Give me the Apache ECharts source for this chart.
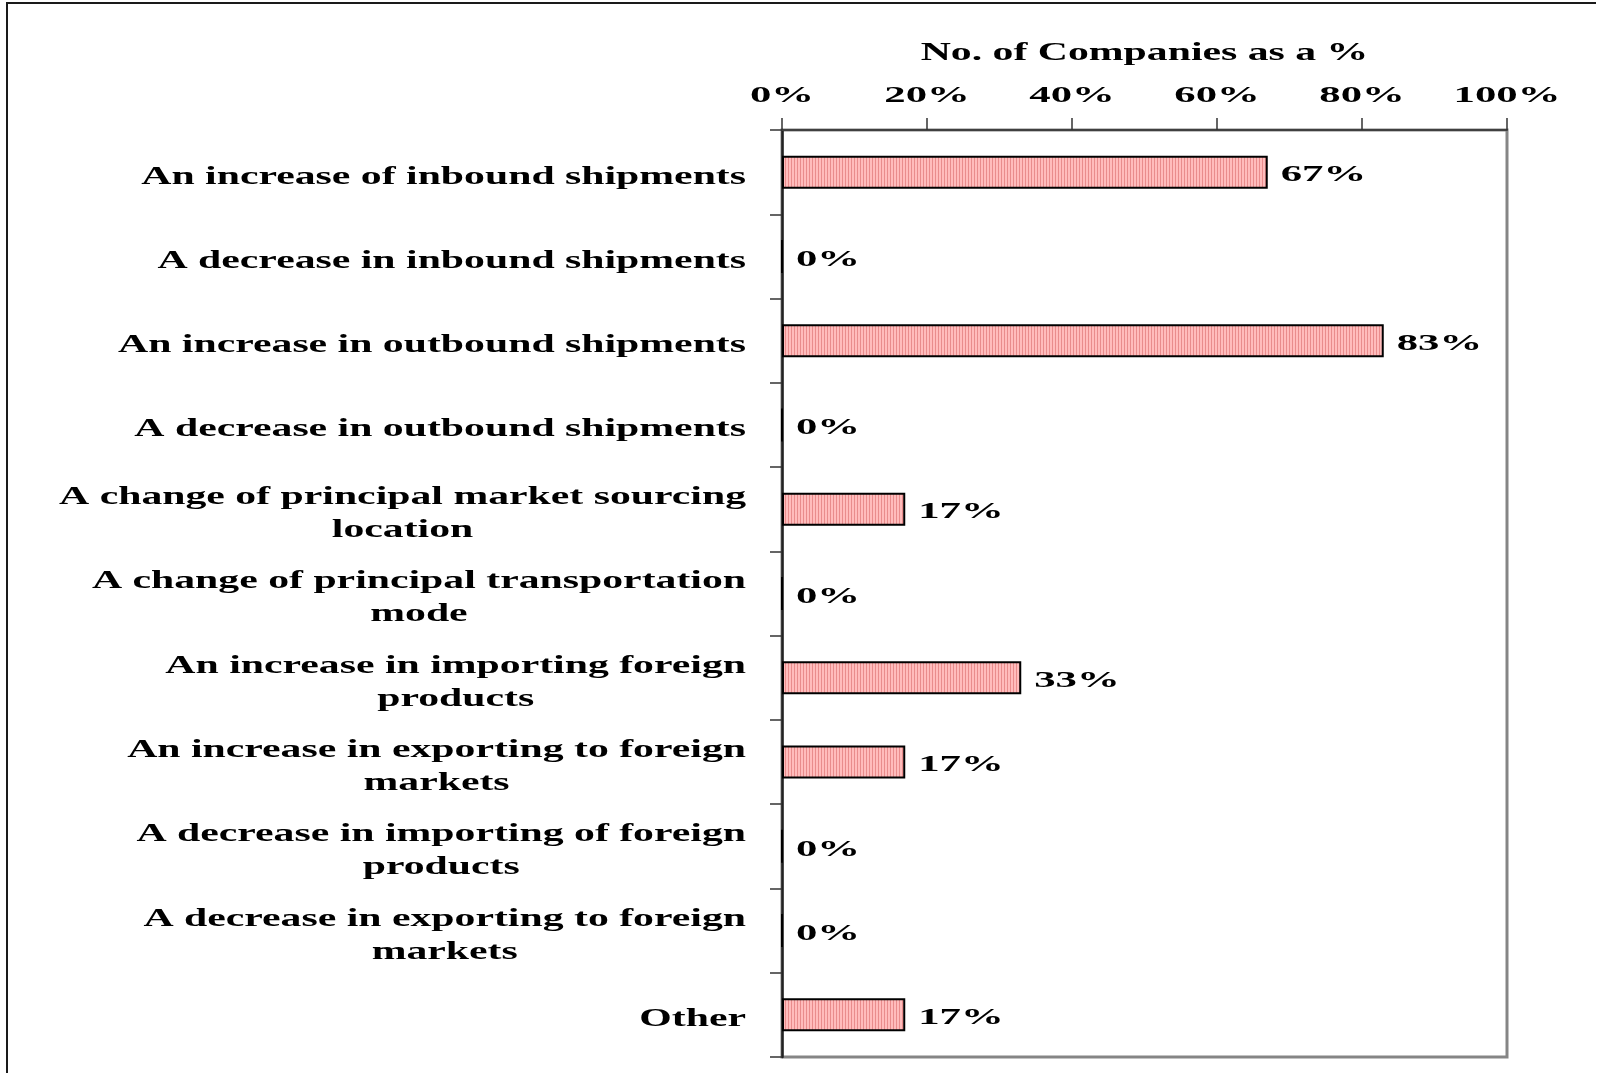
<!DOCTYPE html>
<html>
<head>
<meta charset="utf-8">
<script src="https://cdn.jsdelivr.net/npm/echarts@6/dist/echarts.min.js"></script>
<style>
html,body{margin:0;padding:0;background:#fff;}
#chart{position:absolute;left:0;top:0;width:1600px;height:1073px;}
#frame{position:absolute;left:6px;top:2px;width:1588px;height:1075px;border-left:2px solid #1a1a1a;border-top:2px solid #1a1a1a;pointer-events:none;}
</style>
</head>
<body>
<div id="chart"></div>
<div id="frame"></div>
<script>
// ---- data ----
var categories = [
  'An increase of inbound shipments',
  'A decrease in inbound shipments',
  'An increase in outbound shipments',
  'A decrease in outbound shipments',
  'A change of principal market sourcing\nlocation',
  'A change of principal transportation\nmode',
  'An increase in importing foreign\nproducts',
  'An increase in exporting to foreign\nmarkets',
  'A decrease in importing of foreign\nproducts',
  'A decrease in exporting to foreign\nmarkets',
  'Other'
];
var values = [67, 0, 83, 0, 17, 0, 33, 17, 0, 0, 17];
var axisTitle = 'No. of Companies as a %';
var tickMin = 0, tickMax = 100, tickStep = 20;

// ---- horizontally stretched type (the reference text is drawn wide) ----
var STRETCH = { '25': 1.67, '24': 1.78 };
(function () {
  var proto = CanvasRenderingContext2D.prototype;
  var origFill = proto.fillText, origStroke = proto.strokeText, origMeasure = proto.measureText;
  function factor(ctx) {
    var m = /(\d+(?:\.\d+)?)px/.exec(ctx.font || '');
    return (m && STRETCH[m[1]]) || 1;
  }
  proto.fillText = function (t, x, y, mw) {
    var s = factor(this);
    if (s === 1) return origFill.apply(this, arguments);
    this.save(); this.translate(x, y); this.scale(s, 1);
    origFill.call(this, t, 0, 0); this.restore();
  };
  proto.strokeText = function (t, x, y, mw) {
    var s = factor(this);
    if (s === 1) return origStroke.apply(this, arguments);
    this.save(); this.translate(x, y); this.scale(s, 1);
    origStroke.call(this, t, 0, 0); this.restore();
  };
  proto.measureText = function (t) {
    var m = origMeasure.call(this, t);
    var s = factor(this);
    if (s === 1) return m;
    return {
      width: m.width * s,
      actualBoundingBoxLeft: m.actualBoundingBoxLeft * s,
      actualBoundingBoxRight: m.actualBoundingBoxRight * s,
      actualBoundingBoxAscent: m.actualBoundingBoxAscent,
      actualBoundingBoxDescent: m.actualBoundingBoxDescent,
      fontBoundingBoxAscent: m.fontBoundingBoxAscent,
      fontBoundingBoxDescent: m.fontBoundingBoxDescent
    };
  };
})();

// ---- striped pink fill ----
var pat = document.createElement('canvas');
pat.width = 3; pat.height = 4;
var pc = pat.getContext('2d');
pc.fillStyle = '#ffbcbc'; pc.fillRect(0, 0, 3, 4);
pc.fillStyle = '#e98c8c'; pc.fillRect(2, 0, 1, 4);

var FONT = '"Liberation Serif", "Times New Roman", serif';

var chart = echarts.init(document.getElementById('chart'), null, { renderer: 'canvas' });
chart.setOption({
  animation: false,
  backgroundColor: '#ffffff',
  grid: {
    left: 782, right: 93, top: 130, bottom: 16,
    show: true, borderColor: '#858585', borderWidth: 3, backgroundColor: 'transparent',
    outerBoundsMode: 'none'
  },
  xAxis: {
    type: 'value', position: 'top',
    min: tickMin, max: tickMax, interval: tickStep,
    name: axisTitle, nameLocation: 'middle', nameGap: 56, nameMoveOverlap: false,
    nameTextStyle: { fontFamily: FONT, fontWeight: 'bold', fontSize: 25, color: '#000' },
    axisLine: { show: true, lineStyle: { color: '#404040', width: 2 } },
    axisTick: { show: true, length: 12, lineStyle: { color: '#333', width: 1.5 } },
    splitLine: { show: false },
    axisLabel: { formatter: '{value}%', fontFamily: FONT, fontWeight: 'bold', fontSize: 24, color: '#000', margin: 13 }
  },
  yAxis: {
    type: 'category', inverse: true, data: categories,
    axisLine: { show: true, lineStyle: { color: '#222', width: 2.5 } },
    axisTick: { show: true, length: 12, lineStyle: { color: '#333', width: 1.5 } },
    axisLabel: {
      margin: 36, color: '#000', padding: [10, 0, 0, 0],
      formatter: function (v) {
        return v.split('\n').map(function (l) { return '{c|' + l + '}'; }).join('\n');
      },
      rich: { c: { align: 'center', fontFamily: FONT, fontWeight: 'bold', fontSize: 25, lineHeight: 33, color: '#000' } }
    }
  },
  series: [{
    type: 'bar', data: values, barWidth: 33,
    itemStyle: { color: { image: pat, repeat: 'repeat' }, borderColor: '#000', borderWidth: 2 },
    label: {
      show: true, position: 'right', distance: 13, offset: [0, 3], formatter: '{c}%',
      fontFamily: FONT, fontWeight: 'bold', fontSize: 24, color: '#000'
    }
  }]
});
</script>
</body>
</html>
